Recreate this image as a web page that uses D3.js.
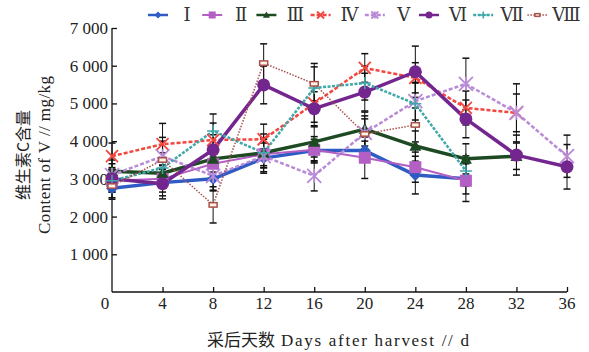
<!DOCTYPE html>
<html>
<head>
<meta charset="utf-8">
<script src="https://cdn.jsdelivr.net/npm/d3@7"></script>
<style>
  body { margin: 0; background: #fff; }
  text { font-family: "Liberation Serif", "DejaVu Serif", serif; }
  .cjk { font-family: "Noto Sans CJK SC", sans-serif; }
</style>
</head>
<body>
<div id="chart"></div>
<script>
// days after harvest
const days = [0, 4, 8, 12, 16, 20, 24, 28, 32, 36];
const yTicks = [0, 1000, 2000, 3000, 4000, 5000, 6000, 7000];
const names = ["Ⅰ", "Ⅱ", "Ⅲ", "Ⅳ", "Ⅴ", "Ⅵ", "Ⅶ", "Ⅷ"];

// vitamin C content, mg/kg
const s1 = [2750, 2900, 3000, 3550, 3750, 3750, 3100, 3000];
const s2 = [2950, 3000, 3400, 3650, 3770, 3560, 3310, 2950];
const s3 = [3200, 3150, 3530, 3690, 3980, 4320, 3870, 3530, 3600];
const s4 = [3600, 3920, 4030, 4050, 5000, 5940, 5680, 4880, 4750];
const s5 = [3100, 3600, 3080, 3600, 3080, 4220, 5060, 5520, 4750, 3600];
const s6 = [3000, 2870, 3770, 5490, 4860, 5300, 5840, 4590, 3630, 3320];
const s7 = [2950, 3290, 4270, 3690, 5410, 5540, 4990, 3210];
const s8 = [2810, 3500, 2310, 6070, 5520, 4190, 4430];

// error bar half-lengths
const e1 = [250, 350, 300, 250, 300, 250, 500, 400];
const e2 = [300, 350, 400, 300, 350, 550, 400, 550];
const e3 = [300, 400, 350, 400, 400, 450, 400, 400, 350];
const e4 = [350, 550, 450, 400, 500, 380, 400, 450, 500];
const e5 = [300, 500, 400, 450, 400, 450, 500, 680, 770, 560];
const e6 = [300, 400, 400, 500, 450, 500, 680, 500, 530, 590];
const e7 = [300, 400, 450, 500, 650, 450, 550, 400];
const e8 = [350, 500, 480, 510, 450, 400, 450];

const width = 589, height = 352;
const svg = d3.select("#chart").append("svg")
  .attr("width", width).attr("height", height);

const x = d3.scaleLinear().domain([0, 36]).range([112, 567]);
const y = d3.scaleLinear().domain([0, 7000]).range([292, 28]);

const styles = [
  { vals: s1, err: e1, color: "#2f5cc4", w: 3.5, dash: null, mark: "diamond" },
  { vals: s2, err: e2, color: "#b35fc4", w: 2, dash: null, mark: "square" },
  { vals: s3, err: e3, color: "#1d4a22", w: 3.5, dash: null, mark: "triangle" },
  { vals: s4, err: e4, color: "#f2463f", w: 2.5, dash: "4,2", mark: "x" },
  { vals: s5, err: e5, color: "#b98ad6", w: 2.5, dash: "4,2", mark: "star" },
  { vals: s6, err: e6, color: "#74268f", w: 3.5, dash: null, mark: "circle" },
  { vals: s7, err: e7, color: "#3fa7a8", w: 2.5, dash: "3,1.5", mark: "plus" },
  { vals: s8, err: e8, color: "#a8504a", w: 1.5, dash: "1.5,1.5", mark: "rect" }
];

// axes
const yAxis = d3.axisRight(y).tickValues(yTicks.slice(1)).tickSize(5).tickFormat("");
svg.append("g").attr("transform", "translate(112,0)").call(yAxis)
  .call(g => g.select(".domain").attr("d", "M0," + y(7000) + "V" + y(0)))
  .selectAll("line,path").attr("stroke", "#111").attr("stroke-width", 1.3);

const xAxis = d3.axisTop(x).tickValues(days.slice(1)).tickSize(5).tickFormat("");
svg.append("g").attr("transform", "translate(0," + y(0) + ")").call(xAxis)
  .call(g => g.select(".domain").attr("d", "M112,0H567"))
  .selectAll("line,path").attr("stroke", "#111").attr("stroke-width", 1.3);

// tick labels
svg.append("g").selectAll("text").data(yTicks.slice(1)).join("text")
  .attr("x", 108).attr("y", d => y(d) + 6)
  .attr("text-anchor", "end").attr("font-size", 17).attr("fill", "#222")
  .text(d => d3.format(",")(d).replace(",", " "));

svg.append("g").selectAll("text").data(days).join("text")
  .attr("x", d => d === 0 ? 105 : x(d)).attr("y", 309)
  .attr("text-anchor", "middle").attr("font-size", 17).attr("fill", "#222")
  .text(d => d);

// axis titles
svg.append("text").attr("class", "cjk")
  .attr("transform", "translate(29,155) rotate(-90)")
  .attr("text-anchor", "middle").attr("font-size", 16).attr("fill", "#222")
  .text("维生素C含量");
svg.append("text")
  .attr("transform", "translate(50,155) rotate(-90)")
  .attr("text-anchor", "middle").attr("font-size", 17).attr("fill", "#222")
  .attr("textLength", 158).attr("lengthAdjust", "spacing")
  .text("Content of V // mg/kg");

const xt = svg.append("text").attr("x", 338).attr("y", 346)
  .attr("text-anchor", "middle").attr("font-size", 17).attr("fill", "#222");
xt.append("tspan").attr("class", "cjk").attr("font-size", 17).text("采后天数");
xt.append("tspan").attr("dx", 6).attr("textLength", 188).attr("lengthAdjust", "spacing")
  .text("Days after harvest // d");

// markers
function marker(g, type, color, s) {
  if (type === "diamond") {
    g.append("path").attr("d", `M0,${-s}L${s},0L0,${s}L${-s},0Z`).attr("fill", color);
  } else if (type === "square") {
    g.append("rect").attr("x", -s).attr("y", -s).attr("width", 2 * s).attr("height", 2 * s).attr("fill", color);
  } else if (type === "triangle") {
    g.append("path").attr("d", `M0,${-s}L${s},${s * 0.8}L${-s},${s * 0.8}Z`).attr("fill", color);
  } else if (type === "circle") {
    g.append("circle").attr("r", s).attr("fill", color);
  } else if (type === "x") {
    g.append("path").attr("d", `M${-s},${-s}L${s},${s}M${-s},${s}L${s},${-s}`)
      .attr("stroke", color).attr("stroke-width", 1.8);
  } else if (type === "star") {
    g.append("path").attr("d", `M${-s},${-s}L${s},${s}M${-s},${s}L${s},${-s}M0,${-s}V${s}`)
      .attr("stroke", color).attr("stroke-width", 1.8);
  } else if (type === "plus") {
    g.append("path").attr("d", `M${-s},0H${s}M0,${-s}V${s}`)
      .attr("stroke", color).attr("stroke-width", 1.5);
  } else if (type === "rect") {
    g.append("rect").attr("x", -s).attr("y", -s * 0.55).attr("width", 2 * s).attr("height", 1.1 * s)
      .attr("fill", "#fff4e8").attr("stroke", color).attr("stroke-width", 1.5);
  }
}
const markSize = { diamond: 6, square: 6, triangle: 6, circle: 6.5, x: 6, star: 7, plus: 6, rect: 4 };

// error bars
const eb = svg.append("g").attr("stroke", "#111").attr("stroke-width", 1);
styles.forEach(st => {
  st.vals.forEach((v, i) => {
    const cx = x(days[i]), lo = y(v - st.err[i]), hi = y(v + st.err[i]);
    eb.append("line").attr("x1", cx).attr("x2", cx).attr("y1", lo).attr("y2", hi);
    eb.append("line").attr("x1", cx - 3.5).attr("x2", cx + 3.5).attr("y1", lo).attr("y2", lo).attr("stroke-width", 1.5);
    eb.append("line").attr("x1", cx - 3.5).attr("x2", cx + 3.5).attr("y1", hi).attr("y2", hi).attr("stroke-width", 1.5);
  });
});

// lines and markers
const line = d3.line().x((d, i) => x(days[i])).y(d => y(d));
styles.forEach(st => {
  svg.append("path").datum(st.vals).attr("d", line)
    .attr("fill", "none").attr("stroke", st.color).attr("stroke-width", st.w)
    .attr("stroke-dasharray", st.dash).attr("stroke-linejoin", "round");
});
styles.forEach(st => {
  st.vals.forEach((v, i) => {
    const g = svg.append("g").attr("transform", `translate(${x(days[i])},${y(v)})`);
    marker(g, st.mark, st.color, markSize[st.mark]);
  });
});

// legend
const lg = svg.append("g");
styles.forEach((st, i) => {
  const lx = 148 + i * 54.2, ly = 15;
  lg.append("line").attr("x1", lx).attr("x2", lx + 20).attr("y1", ly).attr("y2", ly)
    .attr("stroke", st.color).attr("stroke-width", Math.min(st.w, 2.5)).attr("stroke-dasharray", st.dash);
  const g = lg.append("g").attr("transform", `translate(${lx + 10},${ly})`);
  marker(g, st.mark, st.color, st.mark === "rect" ? 2.5 : 3.5);
  lg.append("text").attr("x", lx + 39).attr("y", ly + 6).attr("text-anchor", "middle")
    .attr("font-size", 18).attr("fill", "#333").text(names[i]);
});
</script>
</body>
</html>
